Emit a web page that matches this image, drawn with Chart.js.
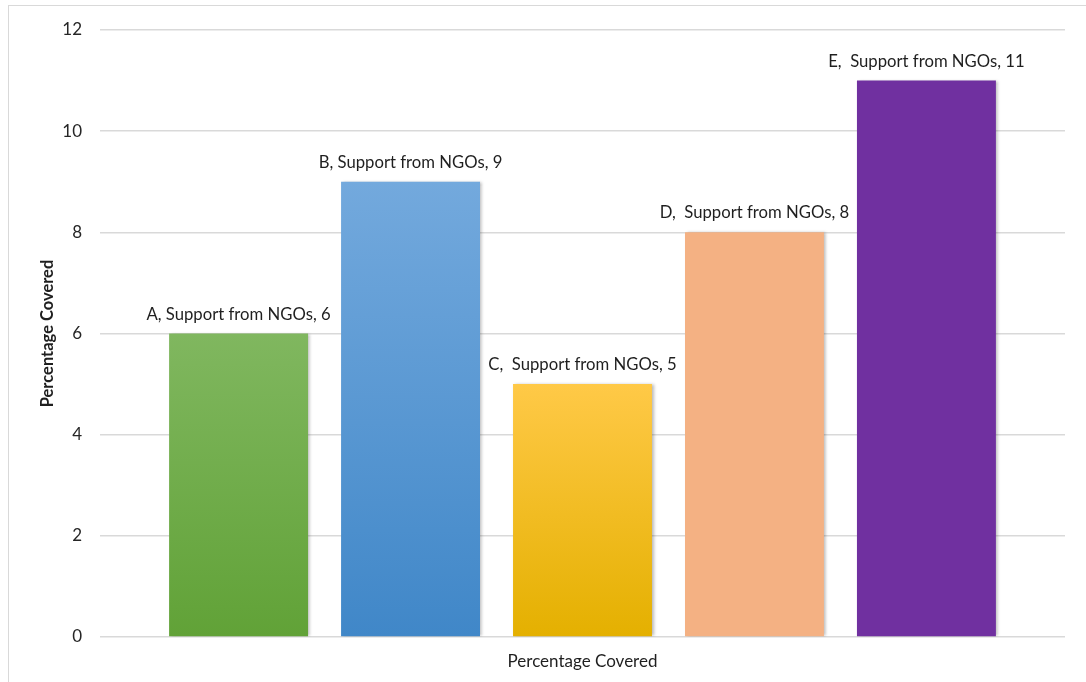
<!DOCTYPE html>
<html>
<head>
<meta charset="utf-8">
<script src="https://cdn.jsdelivr.net/npm/chart.js@4/dist/chart.umd.min.js"></script>
<style>
  html, body { margin: 0; padding: 0; background: #fff; overflow: hidden; }
  #frame {
    position: absolute; left: 8px; top: 5px; width: 1200px; height: 800px;
    border: 1px solid #d9d9d9; box-sizing: border-box;
  }
  #wrap { position: absolute; left: 0; top: 0; width: 1086px; height: 682px; }
</style>
</head>
<body>
<div id="frame"></div>
<div id="wrap"><canvas id="chart" width="1086" height="682"></canvas></div>
<script>
// データ
const category = 'Support from NGOs';
const seriesNames = ['A', 'B', 'C', 'D', 'E'];
const seriesValues = [6, 9, 5, 8, 11];
// ラベルのカンマ後の空白（元図のまま）
const labelGaps = [' ', ' ', '  ', '  ', '  '];
const yTicks = [0, 2, 4, 6, 8, 10, 12];
const axisTitle = 'Percentage Covered';

// 色（上端, 下端）
const barColors = [
  ['#80b75f', '#61a237'],
  ['#73a9dd', '#4087c8'],
  ['#ffc947', '#e4b000'],
  ['#f4b183', '#f4b183'],
  ['#7030a0', '#7030a0']
];

const FONT = 'Lato, "Open Sans", sans-serif';

function gradientFor(idx) {
  return function(context) {
    const chart = context.chart;
    if (!chart.chartArea) return barColors[idx][0];
    const y = chart.scales.y;
    const top = y.getPixelForValue(seriesValues[idx]);
    const bottom = y.getPixelForValue(0);
    const g = chart.ctx.createLinearGradient(0, top, 0, bottom);
    g.addColorStop(0, barColors[idx][0]);
    g.addColorStop(1, barColors[idx][1]);
    return g;
  };
}

const datasets = seriesNames.map((name, i) => ({
  label: name,
  data: [seriesValues[i]],
  backgroundColor: gradientFor(i),
  borderWidth: 0,
  categoryPercentage: 0.891,
  barPercentage: 0.808
}));

// 棒の影
const shadowPlugin = {
  id: 'barShadow',
  beforeDatasetDraw(chart) {
    const ctx = chart.ctx;
    ctx.save();
    ctx.shadowColor = 'rgba(0,0,0,0.28)';
    ctx.shadowOffsetX = 2;
    ctx.shadowOffsetY = 0;
    ctx.shadowBlur = 3;
  },
  afterDatasetDraw(chart) {
    chart.ctx.restore();
  }
};

// データラベル
const labelPlugin = {
  id: 'barLabels',
  afterDatasetsDraw(chart) {
    const ctx = chart.ctx;
    ctx.save();
    ctx.font = '16.7px ' + FONT;
    ctx.fillStyle = '#1f1f1f';
    ctx.textAlign = 'center';
    ctx.textBaseline = 'alphabetic';
    chart.data.datasets.forEach((ds, i) => {
      const bar = chart.getDatasetMeta(i).data[0];
      const text = seriesNames[i] + ',' + labelGaps[i] + category + ', ' + seriesValues[i];
      ctx.fillText(text, bar.x, bar.y - 14);
    });
    ctx.restore();
  }
};

const chart = new Chart(document.getElementById('chart').getContext('2d'), {
  type: 'bar',
  data: {
    labels: [category],
    datasets
  },
  options: {
    responsive: false,
    animation: false,
    layout: {
      padding: { left: 38, right: 21, top: 30, bottom: 0 }
    },
    plugins: {
      legend: { display: false },
      tooltip: { enabled: false }
    },
    scales: {
      x: {
        grid: { display: false },
        border: { display: false },
        ticks: { display: false },
        title: {
          display: true,
          text: axisTitle,
          color: '#1f1f1f',
          font: { family: FONT, size: 17 },
          padding: { top: 0, bottom: 10 }
        },
        afterFit(scale) { scale.height = 45; }
      },
      y: {
        min: 0,
        max: 12,
        afterBuildTicks(scale) {
          scale.ticks = yTicks.map(v => ({ value: v }));
        },
        grid: {
          color: '#d9d9d9',
          lineWidth: 1.5,
          drawTicks: false
        },
        border: { display: false },
        ticks: {
          color: '#262626',
          font: { family: FONT, size: 17 },
          padding: 18
        },
        title: {
          display: true,
          text: axisTitle,
          color: '#1f1f1f',
          font: { family: FONT, size: 16.5, weight: 'bold' },
          padding: { top: 0, bottom: 0 }
        },
        afterFit(scale) { scale.width = 62; }
      }
    }
  },
  plugins: [shadowPlugin, labelPlugin]
});
</script>
</body>
</html>
